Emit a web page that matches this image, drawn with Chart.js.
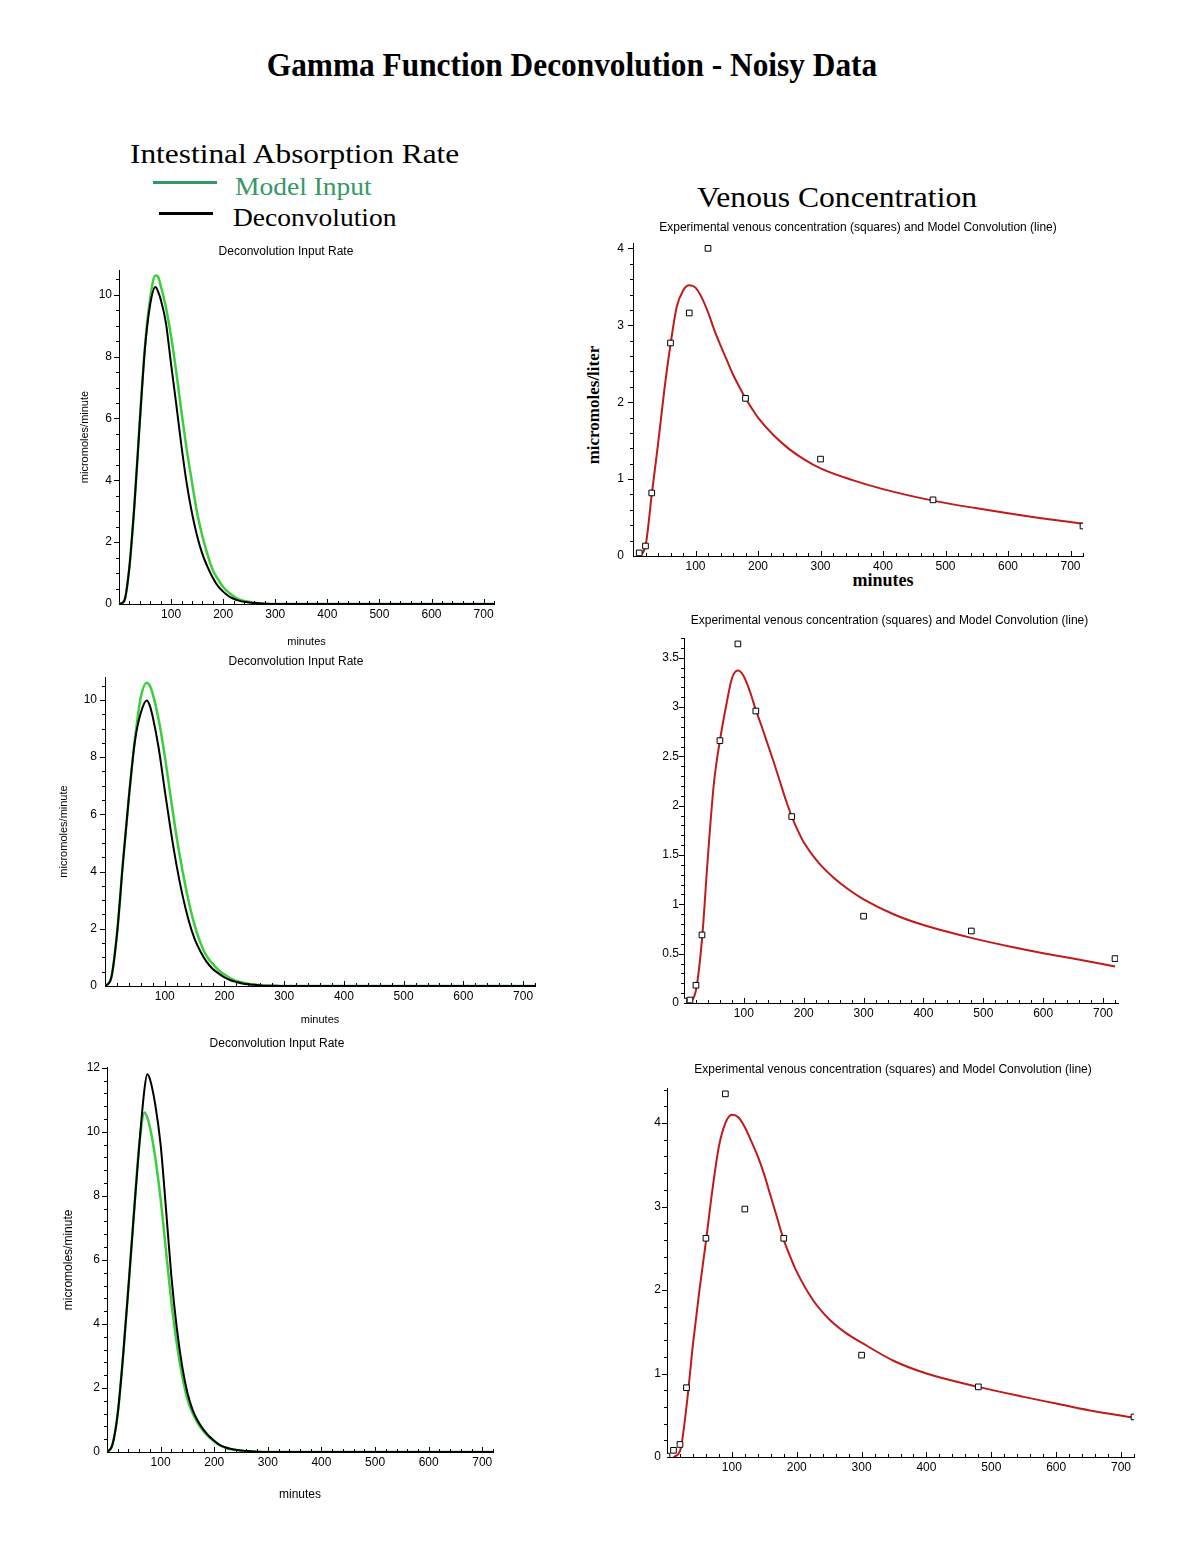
<!DOCTYPE html>
<html>
<head>
<meta charset="utf-8">
<script src="https://cdn.jsdelivr.net/npm/chart.js@4.4.1/dist/chart.umd.min.js"></script>
<style>
    body { margin: 0; background: #fff; width: 1197px; height: 1549px; position: relative; overflow: hidden; }
    .box { position: absolute; }
    .txt { position: absolute; white-space: nowrap; line-height: 1; font-family: 'Liberation Serif', 'Times New Roman', serif; transform-origin: left center; }
    .swatch { position: absolute; height: 3px; }
</style>
</head>
<body>

<div class="txt" style="left:572px;top:50px;transform:translateX(-50%) scale(1.045,1.1);transform-origin:center;font-weight:bold;font-size:30px;">Gamma Function Deconvolution - Noisy Data</div>
<div class="txt" style="left:130px;top:140px;transform:scaleX(1.12);font-size:28px;">Intestinal Absorption Rate</div>
<div class="swatch" style="left:153px;top:181px;width:64px;background:#339966;"></div>
<div class="txt" style="left:235px;top:174px;transform:scaleX(1.1);font-size:25px;color:#339966;">Model Input</div>
<div class="swatch" style="left:159px;top:212px;width:54px;background:#000;"></div>
<div class="txt" style="left:233px;top:205px;transform:scaleX(1.1);font-size:25px;">Deconvolution</div>
<div class="txt" style="left:837px;top:183px;transform:translateX(-50%) scaleX(1.09);transform-origin:center;font-size:29px;">Venous Concentration</div>
<div class="txt" style="left:593px;top:405px;transform:translate(-50%,-50%) rotate(-90deg);transform-origin:center;font-weight:bold;font-size:17px;">micromoles/liter</div>
<div class="txt" style="left:883px;top:580px;transform:translate(-50%,-50%);transform-origin:center;font-weight:bold;font-size:18px;">minutes</div>

<div class="box" id="p1box"><canvas id="rateTop"></canvas></div>
<div class="box" id="p2box"><canvas id="rateMid"></canvas></div>
<div class="box" id="p3box"><canvas id="rateLow"></canvas></div>
<div class="box" id="p4box"><canvas id="concTop"></canvas></div>
<div class="box" id="p5box"><canvas id="concMid"></canvas></div>
<div class="box" id="p6box"><canvas id="concLow"></canvas></div>

<script>
const SANS = "'Liberation Sans', Arial, sans-serif";

// input rate curves (micromoles/minute)
const INPUT_TIMES = [0, 10, 20, 30, 40, 50, 60, 70, 75, 80, 90, 100, 110, 120, 130, 140, 150, 160, 170, 180, 190, 200, 210, 220, 230, 240, 250, 260, 280, 300, 720];
const TOP_DECONV = [0, 0.1, 1.2, 3.3, 5.9, 8.3, 9.7, 10.25, 10.1, 9.85, 9.1, 7.75, 6.45, 5.1, 3.9, 2.95, 2.2, 1.62, 1.2, 0.85, 0.58, 0.4, 0.26, 0.17, 0.11, 0.07, 0.05, 0.03, 0.01, 0, 0];
const TOP_MODEL = [0, 0.1, 1.2, 3.3, 5.95, 8.35, 9.9, 10.62, 10.58, 10.3, 9.6, 8.65, 7.5, 6.2, 5.0, 3.95, 2.95, 2.2, 1.6, 1.1, 0.8, 0.55, 0.38, 0.25, 0.16, 0.1, 0.07, 0.04, 0.01, 0, 0];
const MID_DECONV = [0, 0.25, 1.8, 4.3, 6.6, 8.55, 9.55, 9.98, 9.8, 9.4, 8.3, 6.85, 5.45, 4.2, 3.15, 2.3, 1.65, 1.2, 0.85, 0.6, 0.44, 0.3, 0.2, 0.14, 0.09, 0.06, 0.04, 0.02, 0.01, 0, 0];
const MID_MODEL = [0, 0.25, 1.8, 4.3, 6.6, 8.6, 10.1, 10.6, 10.5, 10.2, 9.3, 8.05, 6.6, 5.2, 4.0, 2.97, 2.13, 1.5, 1.05, 0.78, 0.56, 0.4, 0.27, 0.18, 0.12, 0.08, 0.05, 0.03, 0.01, 0, 0];
const LOW_DECONV = [0, 0.22, 1.2, 3.0, 5.15, 7.4, 9.55, 11.35, 11.8, 11.65, 10.85, 9.6, 7.6, 5.5, 3.9, 2.7, 1.85, 1.3, 0.95, 0.7, 0.5, 0.35, 0.22, 0.15, 0.1, 0.07, 0.05, 0.03, 0.01, 0, 0];
const LOW_MODEL = [0, 0.22, 1.2, 3.0, 5.15, 7.4, 9.55, 10.6, 10.45, 10.15, 9.2, 7.9, 6.3, 4.7, 3.4, 2.4, 1.65, 1.2, 0.88, 0.65, 0.47, 0.33, 0.21, 0.14, 0.09, 0.06, 0.04, 0.03, 0.01, 0, 0];

// venous concentration (micromoles/liter)
const CONV_TIMES = [10, 20, 30, 40, 50, 60, 70, 80, 90, 100, 110, 120, 130, 140, 150, 160, 170, 180, 190, 200, 225, 250, 275, 300, 350, 400, 480, 550, 600, 650, 720];
const TOP_CONV = [0, 0.13, 0.8, 1.45, 2.15, 2.75, 3.24, 3.45, 3.52, 3.49, 3.36, 3.17, 2.94, 2.74, 2.55, 2.36, 2.2, 2.05, 1.92, 1.8, 1.57, 1.39, 1.25, 1.14, 0.99, 0.87, 0.72, 0.62, 0.555, 0.495, 0.42];
const MID_CONV = [0, 0.13, 0.64, 1.49, 2.23, 2.66, 3.0, 3.29, 3.37, 3.31, 3.16, 2.97, 2.8, 2.62, 2.44, 2.25, 2.06, 1.89, 1.75, 1.63, 1.42, 1.27, 1.15, 1.05, 0.9, 0.79, 0.66, 0.565, 0.505, 0.45, 0.37];
const LOW_CONV = [0, 0.07, 0.6, 1.35, 2.0, 2.58, 3.2, 3.72, 4.0, 4.1, 4.07, 3.95, 3.78, 3.6, 3.38, 3.12, 2.86, 2.6, 2.4, 2.22, 1.88, 1.65, 1.49, 1.37, 1.15, 1.0, 0.84, 0.72, 0.64, 0.56, 0.47];

const TOP_SAMPLE_TIMES = [10, 20, 30, 60, 90, 120, 180, 300, 480, 720];
const TOP_SAMPLES = [0.04, 0.13, 0.82, 2.77, 3.16, 4.0, 2.05, 1.26, 0.73, 0.39];
const SAMPLE_TIMES = [0, 10, 20, 30, 60, 90, 120, 180, 300, 480, 720];
const MID_SAMPLES = [0.02, 0.03, 0.18, 0.69, 2.66, 3.64, 2.96, 1.89, 0.88, 0.73, 0.45];
const LOW_SAMPLES = [0.01, 0.08, 0.15, 0.83, 2.62, 4.35, 2.97, 2.62, 1.22, 0.84, 0.48];

const X_TICKS = [100, 200, 300, 400, 500, 600, 700];
const RATE_Y_TICKS = [0, 2, 4, 6, 8, 10];
const RATE_Y_TICKS_12 = [0, 2, 4, 6, 8, 10, 12];
const CONC_Y_TICKS = [0, 1, 2, 3, 4];
const CONC_Y_TICKS_HALF = [0, 0.5, 1, 1.5, 2, 2.5, 3, 3.5];

const RATE_TITLE = 'Deconvolution Input Rate';
const CONC_TITLE = 'Experimental venous concentration (squares) and Model Convolution (line)';

function pts(xs, ys) {
    return xs.map((x, i) => ({ x: x, y: ys[i] }));
}

// Maple style tick marks: x ticks point up into the plot, y ticks point left
const mapleTicks = {
    id: 'mapleTicks',
    afterDatasetsDraw(chart, args, opts) {
        const { ctx } = chart;
        const xs = chart.scales.x, ys = chart.scales.y;
        ctx.save();
        ctx.strokeStyle = '#000';
        ctx.lineWidth = 1;
        ctx.beginPath();
        for (let i = 1; i * opts.xStep <= xs.max; i++) {
            const v = i * opts.xStep;
            const px = Math.round(xs.getPixelForValue(v)) + 0.5;
            const len = v % 100 === 0 ? 5 : 3;
            ctx.moveTo(px, xs.top);
            ctx.lineTo(px, xs.top - len);
        }
        for (let i = 1; i * opts.yStep <= ys.max + 1e-9; i++) {
            const v = i * opts.yStep;
            const py = Math.round(ys.getPixelForValue(v)) + 0.5;
            const r = v / opts.yMajor;
            const len = Math.abs(r - Math.round(r)) < 1e-6 ? 5 : 3;
            ctx.moveTo(ys.right, py);
            ctx.lineTo(ys.right - len, py);
        }
        ctx.stroke();
        ctx.restore();
    }
};

function place(boxId, g) {
    const box = document.getElementById(boxId);
    box.style.left = g.left + 'px';
    box.style.top = g.top + 'px';
    box.style.width = g.width + 'px';
    box.style.height = g.height + 'px';
}

function fixed(w, h) {
    return scale => {
        if (w != null) scale.width = w;
        if (h != null) scale.height = h;
        scale.paddingLeft = 0;
        scale.paddingRight = 0;
        scale.paddingTop = 0;
        scale.paddingBottom = 0;
    };
}

function makeChart(canvasId, g, datasets) {
    return new Chart(document.getElementById(canvasId), {
        type: 'line',
        data: { datasets: datasets },
        options: {
            animation: false,
            responsive: true,
            maintainAspectRatio: false,
            layout: { padding: { left: g.padLeft, right: 6, top: 0, bottom: 0 } },
            plugins: {
                legend: { display: false },
                tooltip: { enabled: false },
                title: {
                    display: true,
                    text: g.title,
                    color: '#000',
                    fullSize: g.titleFull,
                    font: { family: SANS, size: 12, weight: 'normal', lineHeight: 1.2 },
                    padding: { top: g.titleTop, bottom: g.titleBottom }
                },
                mapleTicks: { xStep: 20, yStep: g.yMinor, yMajor: g.yMajor }
            },
            scales: {
                x: {
                    type: 'linear',
                    min: 0,
                    max: g.xMax,
                    afterBuildTicks: s => { s.ticks = X_TICKS.map(v => ({ value: v })); },
                    afterFit: fixed(null, g.xHeight),
                    grid: { display: false, drawTicks: false },
                    border: { display: true, color: '#000', width: 1 },
                    ticks: { color: '#000', font: { family: SANS, size: 12 }, padding: 3, autoSkip: false, maxRotation: 0,
                             callback: v => String(v) },
                    title: g.xTitle ? {
                        display: true, text: 'minutes', color: '#000',
                        font: { family: SANS, size: g.axisFont, lineHeight: 1.2 },
                        padding: { top: 0, bottom: g.xTitlePad }
                    } : { display: false }
                },
                y: {
                    min: 0,
                    max: g.yMax,
                    afterBuildTicks: s => { s.ticks = g.yTicks.map(v => ({ value: v })); },
                    afterFit: fixed(g.yWidth, null),
                    grid: { display: false, drawTicks: false },
                    border: { display: true, color: '#000', width: 1 },
                    ticks: { color: '#000', font: { family: SANS, size: 12 }, padding: g.yLabelPad, autoSkip: false,
                             callback: v => String(v) },
                    title: g.yTitle ? {
                        display: true, text: 'micromoles/minute', color: '#000',
                        font: { family: SANS, size: g.axisFont, lineHeight: 1.2 },
                        padding: { top: g.yTitlePad, bottom: 0 }
                    } : { display: false }
                }
            }
        },
        plugins: [mapleTicks]
    });
}

function rateSets(deconv, model) {
    return [
        { data: pts(INPUT_TIMES, deconv), borderColor: '#000', borderWidth: 2, pointRadius: 0, fill: false, cubicInterpolationMode: 'monotone' },
        { data: pts(INPUT_TIMES, model), borderColor: '#3ccf3c', borderWidth: 2.5, pointRadius: 0, fill: false, cubicInterpolationMode: 'monotone' }
    ];
}

function concSets(sampleTimes, samples, conv) {
    return [
        { data: pts(sampleTimes, samples), showLine: false, pointStyle: 'rect', pointRadius: 4,
          borderColor: '#000', borderWidth: 1, backgroundColor: '#fff' },
        { data: pts(CONV_TIMES, conv), borderColor: '#c01a1a', borderWidth: 2, pointRadius: 0, fill: false, cubicInterpolationMode: 'monotone' }
    ];
}

const geoRateTop = { left: 78, top: 240, width: 422, height: 415, padLeft: 0, yWidth: 41, xHeight: 51,
    titleTop: 4, titleBottom: 11.6, titleFull: true, xMax: 720, yMax: 10.8, yTicks: RATE_Y_TICKS, yMinor: 0.5, yMajor: 2,
    yLabelPad: 7, title: RATE_TITLE, xTitle: true, yTitle: true, axisFont: 11, xTitlePad: 6.4, yTitlePad: 0.4 };
const geoRateMid = { left: 57, top: 650, width: 484, height: 380, padLeft: 0, yWidth: 48, xHeight: 44,
    titleTop: 4, titleBottom: 8.6, titleFull: true, xMax: 720, yMax: 10.8, yTicks: RATE_Y_TICKS, yMinor: 0.5, yMajor: 2,
    yLabelPad: 8, title: RATE_TITLE, xTitle: true, yTitle: true, axisFont: 11, xTitlePad: 3.4, yTitlePad: 0 };
const geoRateLow = { left: 61, top: 1033, width: 438, height: 477, padLeft: 0, yWidth: 46, xHeight: 58,
    titleTop: 3.8, titleBottom: 16.6, titleFull: true, xMax: 720, yMax: 12, yTicks: RATE_Y_TICKS_12, yMinor: 0.4, yMajor: 2,
    yLabelPad: 7, title: RATE_TITLE, xTitle: true, yTitle: true, axisFont: 12, xTitlePad: 7.8, yTitlePad: 0 };
const geoConcTop = { left: 596, top: 218, width: 493, height: 358, padLeft: 0, yWidth: 37, xHeight: 20,
    titleTop: 2.8, titleBottom: 7.8, titleFull: false, xMax: 720, yMax: 4.07, yTicks: CONC_Y_TICKS, yMinor: 0.2, yMajor: 1,
    yLabelPad: 9, title: CONC_TITLE, xTitle: false, yTitle: false };
const geoConcMid = { left: 640, top: 610, width: 484, height: 415, padLeft: 21, yWidth: 23, xHeight: 22,
    titleTop: 3.8, titleBottom: 9.8, titleFull: true, xMax: 725, yMax: 3.7, yTicks: CONC_Y_TICKS_HALF, yMinor: 0.1, yMajor: 0.5,
    yLabelPad: 5, title: CONC_TITLE, xTitle: false, yTitle: false };
const geoConcLow = { left: 625, top: 1060, width: 515, height: 422, padLeft: 27, yWidth: 15, xHeight: 25,
    titleTop: 2.8, titleBottom: 10.8, titleFull: true, xMax: 720, yMax: 4.42, yTicks: CONC_Y_TICKS, yMinor: 0.2, yMajor: 1,
    yLabelPad: 6, title: CONC_TITLE, xTitle: false, yTitle: false };

place('p1box', geoRateTop);
place('p2box', geoRateMid);
place('p3box', geoRateLow);
place('p4box', geoConcTop);
place('p5box', geoConcMid);
place('p6box', geoConcLow);

makeChart('rateTop', geoRateTop, rateSets(TOP_DECONV, TOP_MODEL));
makeChart('rateMid', geoRateMid, rateSets(MID_DECONV, MID_MODEL));
makeChart('rateLow', geoRateLow, rateSets(LOW_DECONV, LOW_MODEL));
makeChart('concTop', geoConcTop, concSets(TOP_SAMPLE_TIMES, TOP_SAMPLES, TOP_CONV));
makeChart('concMid', geoConcMid, concSets(SAMPLE_TIMES, MID_SAMPLES, MID_CONV));
makeChart('concLow', geoConcLow, concSets(SAMPLE_TIMES, LOW_SAMPLES, LOW_CONV));
</script>
</body>
</html>
